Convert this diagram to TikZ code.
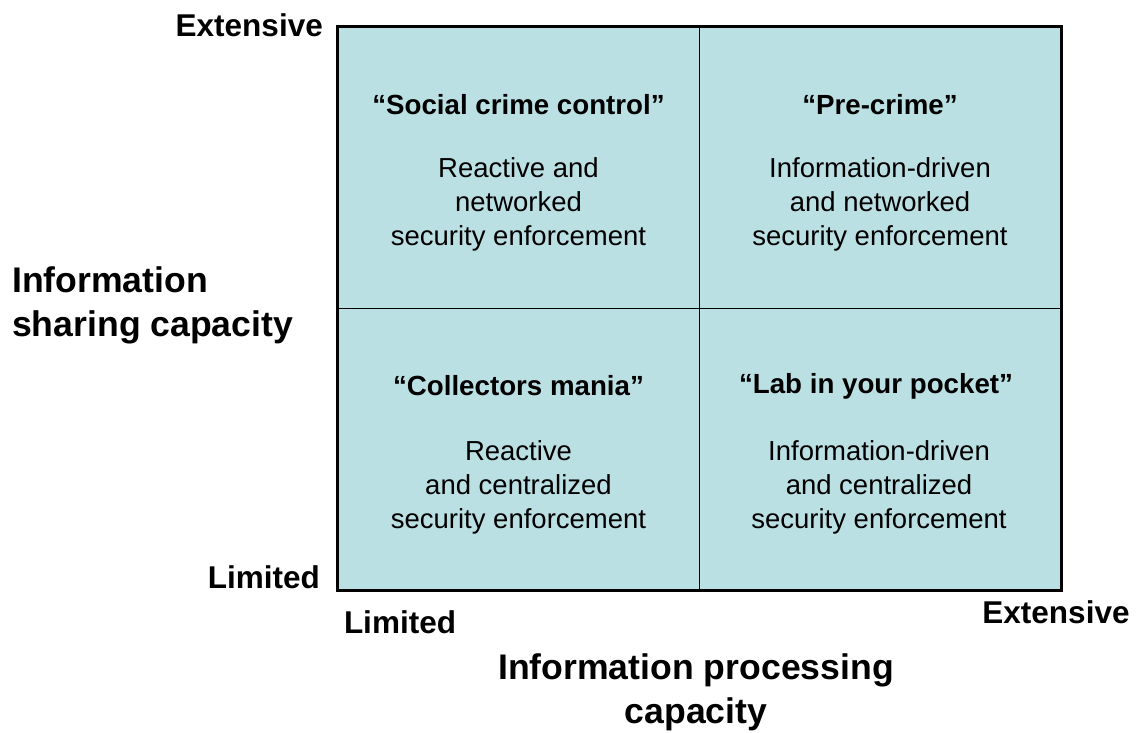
\documentclass[tikz,border=0pt]{standalone}
\usepackage{fontspec}
\setmainfont{Liberation Sans}
\definecolor{quadfill}{HTML}{BBE0E3}
\begin{document}
\begin{tikzpicture}[x=1pt,y=-1pt,
  quad/.style={draw=black,line width=1.4pt,fill=quadfill,minimum width=361.5pt,minimum height=281.5pt,inner sep=0pt},
  qtitle/.style={font=\fontsize{27.7}{34}\selectfont\bfseries,inner sep=0pt},
  qbody/.style={font=\fontsize{27.5}{34}\selectfont,align=center,inner sep=0pt},
  tick/.style={font=\fontsize{31.5}{40}\selectfont\bfseries,inner sep=0pt},
  axtitle/.style={font=\fontsize{35.6}{44}\selectfont\bfseries,inner sep=0pt}]
\useasboundingbox (0,0) rectangle (1141,733);
% quadrants
\node[quad] (q1) at (518.75,167.75) {};
\node[quad] (q2) at (880.25,167.75) {};
\node[quad] (q3) at (518.75,449.25) {};
\node[quad] (q4) at (880.25,449.25) {};
\draw[line width=2pt] (q1.north west) rectangle (q4.south east);
% quadrant texts
\node[qtitle] (t1) at (518.5,105) {“Social crime control”};
\node[qbody] (b1) at (518.5,204) {Reactive and\\networked\\security enforcement};
\node[qtitle] (t2) at (880,105) {“Pre-crime”};
\node[qbody] (b2) at (880,204) {Information-driven\\and networked\\security enforcement};
\node[qtitle] (t3) at (518.5,386) {“Collectors mania”};
\node[qbody] (b3) at (518.5,487) {Reactive\\and centralized\\security enforcement};
\node[qtitle] (t4) at (876,386) {“Lab in your pocket”};
\node[qbody] (b4) at (879,487) {Information-driven\\and centralized\\security enforcement};
% axis labels
\node[tick,anchor=east] (ye) at (323,25) {Extensive};
\node[tick,anchor=east] (yl) at (320,577) {Limited};
\node[tick] (xl) at (400,622) {Limited};
\node[tick] (xe) at (1056,612) {Extensive};
\node[axtitle,anchor=west,align=left] (ya) at (12,305) {Information\\sharing capacity};
\node[axtitle,align=center] (xa) at (696,692) {Information processing\\capacity};
\end{tikzpicture}
\end{document}
